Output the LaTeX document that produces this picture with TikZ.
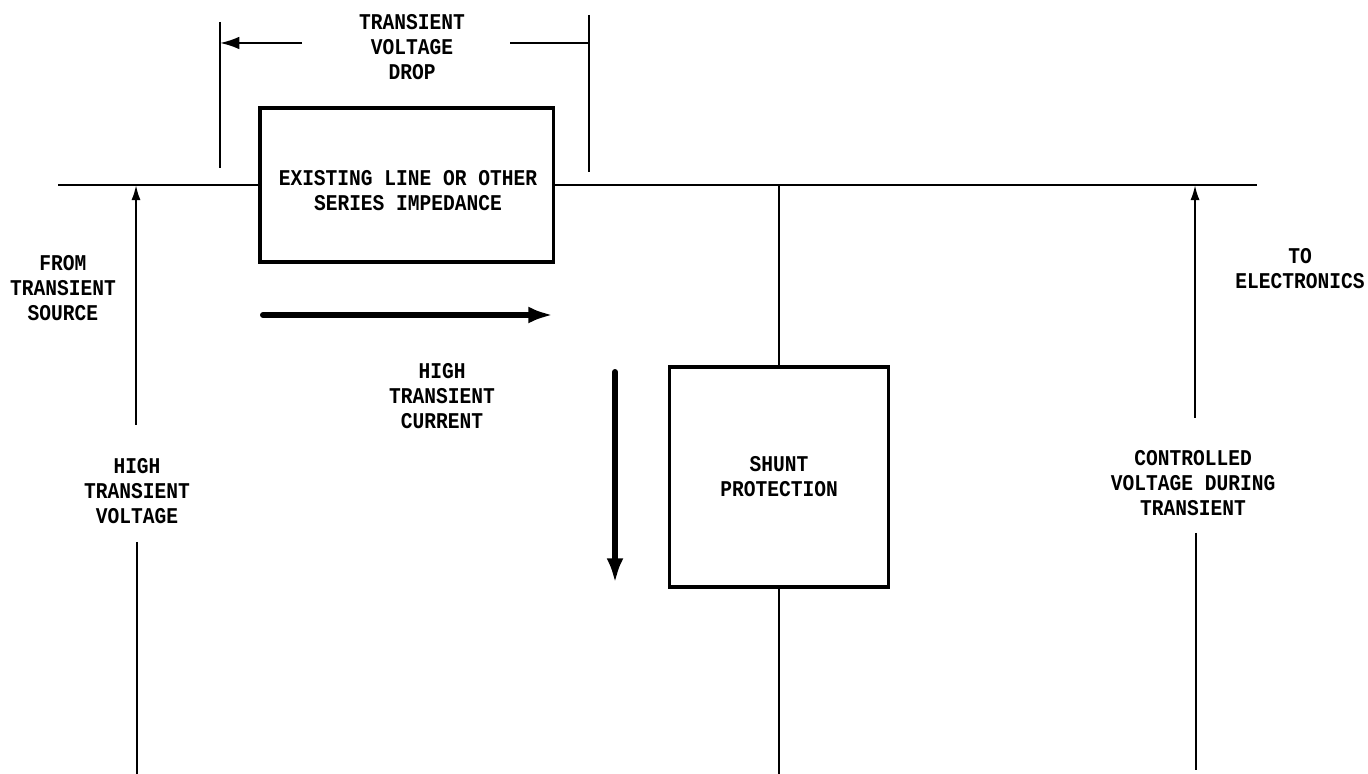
\documentclass[tikz,border=0pt]{standalone}
\usepackage{fontspec}
\setmonofont{Liberation Mono}[FakeStretch=0.87]
\usetikzlibrary{arrows.meta}
\begin{document}
\begin{tikzpicture}[x=0.01cm,y=-0.01cm,
  lbl/.style={font=\ttfamily\bfseries\fontsize{6.4}{7.1}\selectfont,align=center,inner sep=0pt},
  blk/.style={draw,line width=0.9pt,minimum width=#1,inner sep=0pt},
  wire/.style={line width=0.6pt},
  varrow/.style={line width=0.6pt,-{Latex[length=4.3pt,width=2.6pt]}},
  bigarrow/.style={line width=1.7pt,line cap=round,-{Latex[length=7pt,width=4.8pt]}}]
\useasboundingbox (0,0) rectangle (1368,774);
% boxes
\node[blk=2.93cm,minimum height=1.54cm] (series) at (406.5,185) {};
\node[lbl] (seriestext) at (408,191) {EXISTING LINE OR OTHER\\SERIES IMPEDANCE};
\node[blk=2.19cm,minimum height=2.20cm,lbl] (shunt) at (779,477) {SHUNT\\PROTECTION};
% main line
\coordinate (l0) at (58,185);
\coordinate (r0) at (1257,185);
\coordinate (jn) at (779,185);
\coordinate (sb) at (779,774);
\draw[wire] (l0) -- (series.west |- l0);
\draw[wire] (series.east |- r0) -- (r0);
\draw[wire] (jn) -- (shunt.north);
\draw[wire] (shunt.south) -- (sb);
% left voltage arrow
\coordinate (la0) at (136,425);
\coordinate (la1) at (136,185);
\coordinate (lb0) at (137,542);
\coordinate (lb1) at (137,774);
\draw[varrow] (la0) -- (la1);
\draw[wire] (lb0) -- (lb1);
% right voltage arrow
\coordinate (ra0) at (1195,418);
\coordinate (ra1) at (1195,185);
\coordinate (rb0) at (1196,533);
\coordinate (rb1) at (1196,770);
\draw[varrow] (ra0) -- (ra1);
\draw[wire] (rb0) -- (rb1);
% dimension
\coordinate (d1a) at (220,22);
\coordinate (d1b) at (220,168);
\coordinate (d2a) at (589,15);
\coordinate (d2b) at (589,172);
\coordinate (da0) at (302,43);
\coordinate (da1) at (220,43);
\coordinate (db0) at (510,43);
\coordinate (db1) at (589,43);
\draw[wire] (d1a) -- (d1b);
\draw[wire] (d2a) -- (d2b);
\draw[line width=0.6pt,-{Latex[length=5.5pt,width=3.6pt]}] (da0) -- (da1);
\draw[wire] (db0) -- (db1);
% current arrows
\coordinate (ca0) at (263,315);
\coordinate (ca1) at (553,315);
\coordinate (cb0) at (615,372);
\coordinate (cb1) at (615,583);
\draw[bigarrow] (ca0) -- (ca1);
\draw[bigarrow] (cb0) -- (cb1);
% labels
\node[lbl] (tvd) at (412,47) {TRANSIENT\\VOLTAGE\\DROP};
\node[lbl] (htc) at (442,396) {HIGH\\TRANSIENT\\CURRENT};
\node[lbl] (fts) at (63,288) {FROM\\TRANSIENT\\SOURCE};
\node[lbl] (htv) at (137,491) {HIGH\\TRANSIENT\\VOLTAGE};
\node[lbl] (toe) at (1300,269) {TO\\ELECTRONICS};
\node[lbl] (cvt) at (1193,483) {CONTROLLED\\VOLTAGE DURING\\TRANSIENT};
\end{tikzpicture}
\end{document}
